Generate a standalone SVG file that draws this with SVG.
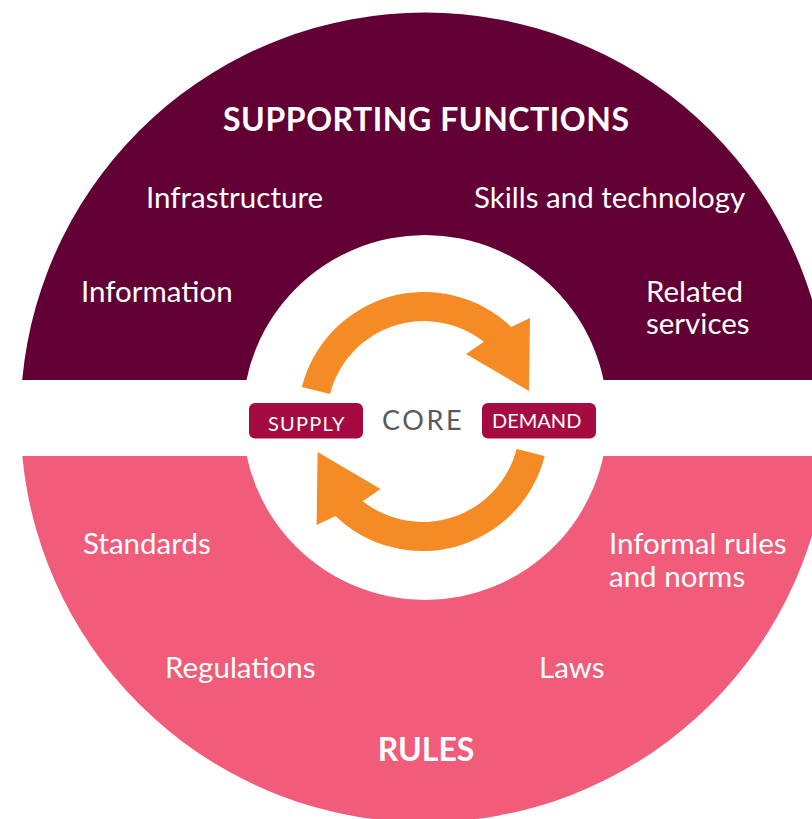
<svg xmlns="http://www.w3.org/2000/svg" width="812" height="819" viewBox="0 0 812 819">
<style>
.lbl{font-family:Lato,"Open Sans","Liberation Sans",sans-serif;fill:#ffffff;font-size:29.5px}
.head{font-family:Lato,"Open Sans","Liberation Sans",sans-serif;fill:#ffffff;font-size:32px;font-weight:bold}
.badge{fill:#a50a40}
.btxt{font-family:Lato,"Open Sans","Liberation Sans",sans-serif;fill:#ffffff;font-size:20px}
.arrow{fill:#f58b24}
</style>
<defs>
<path id="arr" d="M 301.9,386.9 A 126 126 0 0 1 511.1,326.9 L 530,318 L 529,391 L 466,354 L 483.9,341.8 A 97 97 0 0 0 330,394 Z"/>
</defs>
<rect width="812" height="819" fill="#ffffff"/>
<g id="supporting-functions">
<path d="M 22.2,380 A 404.5 404.5 0 0 1 827.8,380 Z" fill="#620035"/>
<text class="head" x="223" y="131" letter-spacing="0.55">SUPPORTING FUNCTIONS</text>
<text class="lbl" x="146" y="208">Infrastructure</text>
<text class="lbl" x="474" y="208">Skills and technology</text>
<text class="lbl" x="81" y="302">Information</text>
<text class="lbl" x="646" y="301.5">Related</text>
<text class="lbl" x="646" y="334">services</text>
</g>
<g id="rules">
<path d="M 827.7,456 A 404.5 404.5 0 0 1 22.3,456 Z" fill="#f05c79"/>
<text class="head" x="426" y="761" text-anchor="middle">RULES</text>
<text class="lbl" x="83" y="554">Standards</text>
<text class="lbl" x="609" y="554">Informal rules</text>
<text class="lbl" x="609" y="586.5">and norms</text>
<text class="lbl" x="165" y="678">Regulations</text>
<text class="lbl" x="539" y="678">Laws</text>
</g>
<g id="core">
<circle cx="425" cy="417.5" r="182.5" fill="#ffffff"/>
<text x="382" y="430" font-family="Lato,'Open Sans','Liberation Sans',sans-serif" font-size="27" letter-spacing="2.6" fill="#58595b">CORE</text>
</g>
<g id="connectors">
<use href="#arr" class="arrow"/>
<use href="#arr" class="arrow" transform="rotate(180 423.3 421.5)"/>
</g>
<g id="supply">
<rect class="badge" x="249" y="403" width="114" height="35.5" rx="6"/>
<text class="btxt" x="268" y="430.5" letter-spacing="1.2">SUPPLY</text>
</g>
<g id="demand">
<rect class="badge" x="482" y="403" width="114" height="35.5" rx="6"/>
<text class="btxt" x="492" y="428">DEMAND</text>
</g>
</svg>
